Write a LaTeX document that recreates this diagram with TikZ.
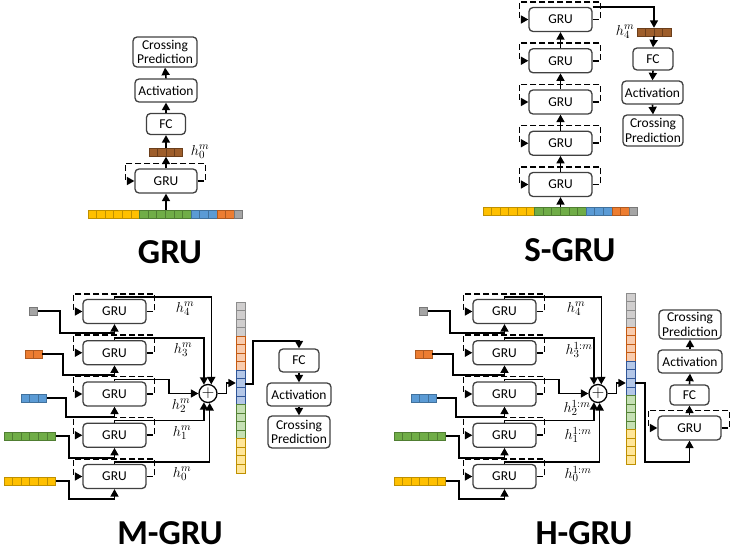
\documentclass[tikz,border=0pt]{standalone}
\usepackage{fontspec}
\setmainfont{Carlito}
\usetikzlibrary{arrows.meta}

\definecolor{yel}{HTML}{FFC000}  \definecolor{yeld}{HTML}{BF9000}
\definecolor{grn}{HTML}{70AD47}  \definecolor{grnd}{HTML}{507E32}
\definecolor{blu}{HTML}{5B9BD5}  \definecolor{blud}{HTML}{41719C}
\definecolor{org}{HTML}{ED7D31}  \definecolor{orgd}{HTML}{AE5A21}
\definecolor{gry}{HTML}{A5A5A5}  \definecolor{gryd}{HTML}{787878}
\definecolor{brn}{HTML}{9E5E2B}  \definecolor{brnd}{HTML}{6B3E1B}
\definecolor{yell}{HTML}{FFE699} \definecolor{yelld}{HTML}{BF9000}
\definecolor{grnl}{HTML}{C5E0B4} \definecolor{grnld}{HTML}{548235}
\definecolor{blul}{HTML}{B4C7E7} \definecolor{bluld}{HTML}{2F5597}
\definecolor{orgl}{HTML}{F8CBAD} \definecolor{orgld}{HTML}{C55A11}
\definecolor{gryl}{HTML}{D0CECE} \definecolor{gryld}{HTML}{8C8C8C}

\tikzset{
    box/.style={rounded corners=4pt, draw=black!75, line width=1.3pt, align=center, inner sep=0pt, font=\fontsize{13.5}{14.5}\selectfont},
    arr/.style={line width=1.6pt, -{Triangle[length=7.5pt,width=8pt]}},
    loopline/.style={line width=1.6pt, dash pattern=on 6pt off 3pt, -{Triangle[length=7.5pt,width=8pt]}},
    hlabel/.style={font=\fontsize{15}{16}\selectfont},
    paneltitle/.style={font=\fontsize{35}{36}\selectfont\bfseries},
    vecnode/.style={inner sep=0pt, minimum height=8pt},
    plusnode/.style={circle, draw, line width=1.3pt, minimum size=18pt, inner sep=0pt, font=\fontsize{18}{18}\selectfont}
}

% row of cells: x, top, count, fill, border, cell width
\newcommand{\hcells}[6]{\foreach \k in {1,...,#3}{\draw[fill=#4, draw=#5, line width=0.9pt] ({#1+(\k-1)*#6},#2) rectangle ++(#6,8);}}
% column of cells: x, top, count, fill, border
\newcommand{\vcells}[5]{\foreach \k in {1,...,#3}{\draw[fill=#4, draw=#5, line width=0.9pt] (#1,{#2+(\k-1)*8.55}) rectangle ++(9,8.55);}}
% dashed recurrent loop round a GRU node
\newcommand{\recur}[1]{\draw[loopline] (#1.east) -- ++(8,0) |- ([yshift=5pt]#1.north) -| ([xshift=-9pt]#1.west) -- (#1.west);}

\begin{document}
\begin{tikzpicture}[x=1pt, y=-1pt]
    \useasboundingbox (0,0) rectangle (737,553);

    % ---------------- GRU ----------------
    \node (seq)  at (165.4,214) [vecnode, minimum width=154.8] {};
    \hcells{88}{210}{6}{yel}{yeld}{8.6}
    \hcells{139.6}{210}{6}{grn}{grnd}{8.6}
    \hcells{191.2}{210}{3}{blu}{blud}{8.6}
    \hcells{217}{210}{2}{org}{orgd}{8.6}
    \hcells{234.2}{210}{1}{gry}{gryd}{8.6}
    \node (gru)  at (166,181)   [box, minimum width=62, minimum height=24] {GRU};
    \node (hvec) at (166,152.5) [vecnode, minimum width=33.2] {};
    \hcells{149.4}{148.5}{4}{brn}{brnd}{8.3}
    \node (hlab) at (200,152)   [hlabel] {$h_0^m$};
    \node (fc)   at (166,124)   [box, minimum width=39, minimum height=21] {FC};
    \node (act)  at (166,90.5)  [box, minimum width=62, minimum height=23] {Activation};
    \node (pred) at (165,52)    [box, minimum width=64, minimum height=30] {Crossing\\Prediction};
    \recur{gru}
    \draw[arr] (seq.north -| gru.south) -- (gru.south);
    \draw[arr] (gru.north) -- (hvec.south);
    \draw[arr] (hvec.north) -- (fc.south);
    \draw[arr] (fc.north) -- (act.south);
    \draw[arr] (act.north) -- (pred.south);
    \node (tgru) at (170,252) [paneltitle] {GRU};

    % ---------------- S-GRU ----------------
    \node (sseq) at (560.4,211) [vecnode, minimum width=154.8] {};
    \hcells{483}{207}{6}{yel}{yeld}{8.6}
    \hcells{534.6}{207}{6}{grn}{grnd}{8.6}
    \hcells{586.2}{207}{3}{blu}{blud}{8.6}
    \hcells{612}{207}{2}{org}{orgd}{8.6}
    \hcells{629.2}{207}{1}{gry}{gryd}{8.6}
    \node (s1) at (560.5,184.5)  [box, minimum width=63, minimum height=24] {GRU};
    \node (s2) at (560.5,143.25) [box, minimum width=63, minimum height=24] {GRU};
    \node (s3) at (560.5,102)    [box, minimum width=63, minimum height=24] {GRU};
    \node (s4) at (560.5,60.75)  [box, minimum width=63, minimum height=24] {GRU};
    \node (s5) at (560.5,19.5)   [box, minimum width=63, minimum height=24] {GRU};
    \recur{s1} \recur{s2} \recur{s3} \recur{s4} \recur{s5}
    \draw[arr] (sseq.north -| s1.south) -- (s1.south);
    \draw[arr] (s1.north) -- (s2.south);
    \draw[arr] (s2.north) -- (s3.south);
    \draw[arr] (s3.north) -- (s4.south);
    \draw[arr] (s4.north) -- (s5.south);
    \node (shvec) at (654,32) [vecnode, minimum width=34] {};
    \hcells{637}{28}{4}{brn}{brnd}{8.5}
    \node (shlab) at (625,32) [hlabel] {$h_4^m$};
    \node (sfc)   at (653,59)    [box, minimum width=40, minimum height=22] {FC};
    \node (sact)  at (652.5,92.5) [box, minimum width=61, minimum height=23] {Activation};
    \node (spred) at (653,130.5) [box, minimum width=60, minimum height=31] {Crossing\\Prediction};
    \draw[arr] (s5.north east) -- ++(7,0) -| (shvec.north);
    \draw[arr] (shvec.south) -- (sfc.north);
    \draw[arr] (sfc.south) -- (sact.north);
    \draw[arr] (sact.south) -- (spred.north);
    \node (tsgru) at (570,250) [paneltitle] {S-GRU};

    % ---------------- M-GRU ----------------
    \node (m4) at (114.5,311.5)  [box, minimum width=63, minimum height=24] {GRU};
    \node (m3) at (114.5,352.75) [box, minimum width=63, minimum height=24] {GRU};
    \node (m2) at (114.5,394)    [box, minimum width=63, minimum height=24] {GRU};
    \node (m1) at (114.5,435.25) [box, minimum width=63, minimum height=24] {GRU};
    \node (m0) at (114.5,476.5)  [box, minimum width=63, minimum height=24] {GRU};
    \recur{m4} \recur{m3} \recur{m2} \recur{m1} \recur{m0}
    % inputs
    \node (mgry) at (33.3,311) [vecnode, minimum width=8.6] {};
    \hcells{29}{307}{1}{gry}{gryd}{8.6}
    \node (morg) at (33.6,354) [vecnode, minimum width=17.2] {};
    \hcells{25}{350}{2}{org}{orgd}{8.6}
    \node (mblu) at (33.9,398) [vecnode, minimum width=25.8] {};
    \hcells{21}{394}{3}{blu}{blud}{8.6}
    \node (mgrn) at (29.8,436) [vecnode, minimum width=51.6] {};
    \hcells{4}{432}{6}{grn}{grnd}{8.6}
    \node (myel) at (29.8,481) [vecnode, minimum width=51.6] {};
    \hcells{4}{477}{6}{yel}{yeld}{8.6}
    \draw[arr] (mgry.east) -| (60,333) -| (m4.south);
    \draw[arr] (morg.east) -| (63,375) -| (m3.south);
    \draw[arr] (mblu.east) -| (66,417) -| (m2.south);
    \draw[arr] (mgrn.east) -| (69,458) -| (m1.south);
    \draw[arr] (myel.east) -| (69,499) -| (m0.south);
    % hidden states
    \node (mplus) at (208,393.5) [plusnode] {$+$};
    \draw[arr] (m4.north) -- ++(0,-2) -| (mplus.70);
    \draw[arr] (m3.north) -- ++(0,-2) -| (mplus.115);
    \draw[arr] (m2.north) -- ++(0,-2) -| (169,393.5) -- (mplus.west);
    \draw[arr] (m1.north) -- ++(0,-2) -| (mplus.245);
    \draw[arr] (m0.north) -- ++(0,-2) -| (mplus.280);
    \node (mh4) at (185,309) [hlabel] {$h_4^m$};
    \node (mh3) at (183,350) [hlabel] {$h_3^m$};
    \node (mh2) at (181,406) [hlabel] {$h_2^m$};
    \node (mh1) at (182,433) [hlabel] {$h_1^m$};
    \node (mh0) at (182,474) [hlabel] {$h_0^m$};
    % concatenation
    \node (mcat) at (240.5,387.5) [inner sep=0pt, minimum width=9, minimum height=171] {};
    \vcells{236}{302}{4}{gryl}{gryld}
    \vcells{236}{336.2}{4}{orgl}{orgld}
    \vcells{236}{370.4}{4}{blul}{bluld}
    \vcells{236}{404.6}{4}{grnl}{grnld}
    \vcells{236}{438.8}{4}{yell}{yelld}
    \draw[arr] (mplus.east) -- ++(9,0) |- ([yshift=4.5pt]mcat.west);
    \node (mfc)   at (299,360.5) [box, minimum width=40, minimum height=23] {FC};
    \node (mact)  at (299,394.5) [box, minimum width=64, minimum height=23] {Activation};
    \node (mpred) at (299,432)   [box, minimum width=62, minimum height=32] {Crossing\\Prediction};
    \draw[arr] ([yshift=3.5pt]mcat.east) -| (253,341) -| (mfc.north);
    \draw[arr] (mfc.south) -- (mact.north);
    \draw[arr] (mact.south) -- (mpred.north);
    \node (tmgru) at (170,533) [paneltitle] {M-GRU};

    % ---------------- H-GRU ----------------
    \node (k4) at (504.5,311.5)  [box, minimum width=63, minimum height=24] {GRU};
    \node (k3) at (504.5,352.75) [box, minimum width=63, minimum height=24] {GRU};
    \node (k2) at (504.5,394)    [box, minimum width=63, minimum height=24] {GRU};
    \node (k1) at (504.5,435.25) [box, minimum width=63, minimum height=24] {GRU};
    \node (k0) at (504.5,476.5)  [box, minimum width=63, minimum height=24] {GRU};
    \recur{k4} \recur{k3} \recur{k2} \recur{k1} \recur{k0}
    % inputs
    \node (kgry) at (423.3,311) [vecnode, minimum width=8.6] {};
    \hcells{419}{307}{1}{gry}{gryd}{8.6}
    \node (korg) at (423.6,354) [vecnode, minimum width=17.2] {};
    \hcells{415}{350}{2}{org}{orgd}{8.6}
    \node (kblu) at (423.9,398) [vecnode, minimum width=25.8] {};
    \hcells{411}{394}{3}{blu}{blud}{8.6}
    \node (kgrn) at (419.8,436) [vecnode, minimum width=51.6] {};
    \hcells{394}{432}{6}{grn}{grnd}{8.6}
    \node (kyel) at (419.8,481) [vecnode, minimum width=51.6] {};
    \hcells{394}{477}{6}{yel}{yeld}{8.6}
    \draw[arr] (kgry.east) -| (450,333) -| (k4.south);
    \draw[arr] (korg.east) -| (453,375) -| (k3.south);
    \draw[arr] (kblu.east) -| (456,417) -| (k2.south);
    \draw[arr] (kgrn.east) -| (459,458) -| (k1.south);
    \draw[arr] (kyel.east) -| (459,499) -| (k0.south);
    % hidden states
    \node (kplus) at (598,393.5) [plusnode] {$+$};
    \draw[arr] (k4.north) -- ++(0,-2) -| (kplus.70);
    \draw[arr] (k3.north) -- ++(0,-2) -| (kplus.115);
    \draw[arr] (k2.north) -- ++(0,-2) -| (559,393.5) -- (kplus.west);
    \draw[arr] (k1.north) -- ++(0,-2) -| (kplus.245);
    \draw[arr] (k0.north) -- ++(0,-2) -| (kplus.280);
    \node (kh4) at (576,309) [hlabel] {$h_4^m$};
    \node (kh3) at (579,350) [hlabel] {$h_3^{1:m}$};
    \node (kh2) at (577,408) [hlabel] {$h_2^{1:m}$};
    \node (kh1) at (578,435) [hlabel] {$h_1^{1:m}$};
    \node (kh0) at (578,474) [hlabel] {$h_0^{1:m}$};
    % concatenation
    \node (kcat) at (630.5,378.5) [inner sep=0pt, minimum width=9, minimum height=171] {};
    \vcells{626}{293}{4}{gryl}{gryld}
    \vcells{626}{327.2}{4}{orgl}{orgld}
    \vcells{626}{361.4}{4}{blul}{bluld}
    \vcells{626}{395.6}{4}{grnl}{grnld}
    \vcells{626}{429.8}{4}{yell}{yelld}
    \draw[arr] (kplus.east) -- ++(9,0) |- ([yshift=-4.5pt]kcat.west);
    \node (kg)    at (689.5,428)   [box, minimum width=63, minimum height=24] {GRU};
    \node (kfc)   at (689.5,395)   [box, minimum width=39, minimum height=20] {FC};
    \node (kact)  at (690,361.5)   [box, minimum width=64, minimum height=23] {Activation};
    \node (kpred) at (690,324.5)   [box, minimum width=62, minimum height=29] {Crossing\\Prediction};
    \recur{kg}
    \draw[arr] ([yshift=-4.5pt]kcat.east) -| (645,462) -| (kg.south);
    \draw[arr] (kg.north) -- (kfc.south);
    \draw[arr] (kfc.north) -- (kact.south);
    \draw[arr] (kact.north) -- (kpred.south);
    \node (thgru) at (584,533) [paneltitle] {H-GRU};
\end{tikzpicture}
\end{document}
